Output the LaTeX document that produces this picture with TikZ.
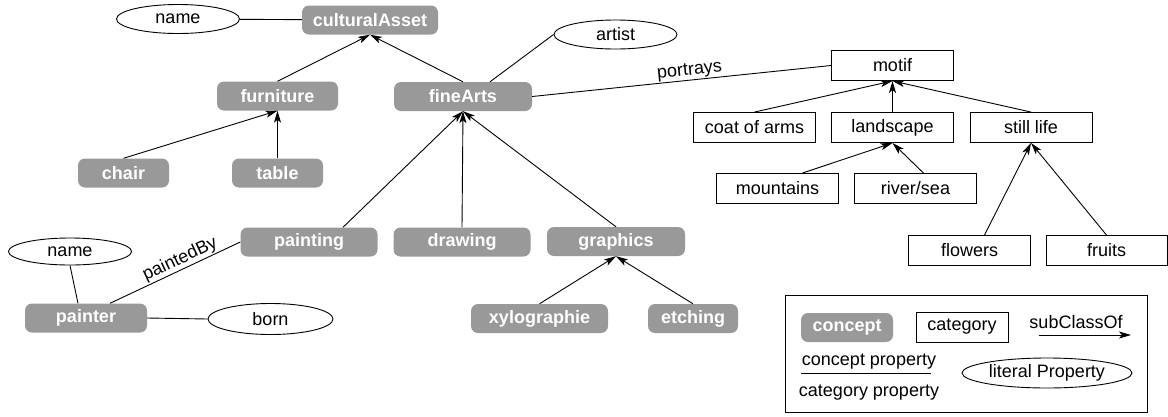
\documentclass[tikz,border=0pt]{standalone}
\usepackage{fontspec}
\setmainfont{Liberation Sans}
\usetikzlibrary{shapes.geometric,arrows.meta}
\definecolor{conc}{HTML}{999999}
\begin{document}
\begin{tikzpicture}[x=1pt,y=-1pt,
 every node/.style={font=\fontsize{18}{21}\selectfont},
 concept/.style={rectangle, rounded corners=7pt, fill=conc, text=white, font=\bfseries\fontsize{18}{21}\selectfont, minimum height=29pt, inner sep=0pt},
 cat/.style={rectangle, draw, line width=0.9pt, minimum height=30pt, minimum width=122pt, inner sep=0pt},
 lit/.style={ellipse, draw, line width=0.9pt, minimum width=123pt, minimum height=29pt, inner sep=0pt},
 sub/.style={draw, line width=0.9pt, -{Stealth[length=12pt,width=7pt,inset=3pt]}},
 prop/.style={draw, line width=0.9pt},
 lbl/.style={font=\fontsize{18}{21}\selectfont, sloped, above, inner sep=1pt}
]
\useasboundingbox (0,0) rectangle (1168,416);

% concepts
\node[concept, minimum width=136pt] (cA) at (370,20) {culturalAsset};
\node[concept, minimum width=121pt] (furn) at (277.5,96) {furniture};
\node[concept, minimum width=138pt] (fA) at (463,96.5) {fineArts};
\node[concept, minimum width=91pt] (chair) at (123.5,173) {chair};
\node[concept, minimum width=91pt] (table) at (277.5,173) {table};
\node[concept, minimum width=137pt] (painting) at (309,242) {painting};
\node[concept, minimum width=137pt] (drawing) at (462,242) {drawing};
\node[concept, minimum width=138pt] (graphics) at (616,241.5) {graphics};
\node[concept, minimum width=122pt] (painter) at (86,318) {painter};
\node[concept, minimum width=137pt] (xylo) at (539.5,318.5) {xylographie};
\node[concept, minimum width=90pt] (etch) at (693,318.5) {etching};

% literals
\node[lit] (name1) at (178,19) {name};
\node[lit] (artist) at (615.5,34.5) {artist};
\node[lit, minimum height=27pt] (name2) at (70,251.5) {name};
\node[lit, minimum height=31pt, minimum width=125pt] (born) at (270.5,319) {born};

% categories
\node[cat] (motif) at (892.5,65.5) {motif};
\node[cat] (coat) at (754.5,127.5) {coat of arms};
\node[cat] (land) at (892.5,127.5) {landscape};
\node[cat] (still) at (1031,127.5) {still life};
\node[cat] (mount) at (777.5,188.5) {mountains};
\node[cat] (river) at (915.5,188.5) {river/sea};
\node[cat] (flowers) at (969.5,250.5) {flowers};
\node[cat, minimum width=121pt] (fruits) at (1106.5,250.5) {fruits};

% edges
\draw[prop] (name1) -- (cA);
\draw[sub] (furn.north) -- (cA.south);
\draw[sub] (fA.north) -- (cA.south);
\draw[sub] (chair.north) -- (furn.south);
\draw[sub] (table.north) -- (furn.south);
\draw[sub] ([xshift=34pt]painting.north) -- (fA.south);
\draw[sub] (drawing.north) -- (fA.south);
\draw[sub] (graphics.north) -- (fA.south);
\draw[sub] (xylo.north) -- (graphics.south);
\draw[sub] (etch.north) -- (graphics.south);
\draw[prop] ([xshift=27pt]fA.north) -- (artist.west);
\draw[prop] (fA.east) -- node[lbl, pos=0.53] {portrays} (motif.west);
\draw[sub] (coat.north) -- (motif.south);
\draw[sub] (land.north) -- (motif.south);
\draw[sub] (still.north) -- (motif.south);
\draw[sub] ([xshift=25pt]mount.north) -- (land.south);
\draw[sub] ([xshift=8pt]river.north) -- (land.south);
\draw[sub] ([xshift=15pt]flowers.north) -- (still.south);
\draw[sub] (fruits.north) -- (still.south);
\draw[prop] ([xshift=-8pt]painter.north) -- (name2.south);
\draw[prop] (painter.east) -- (born.west);
\draw[prop] ([xshift=24pt]painter.north) -- node[lbl, pos=0.57] {paintedBy} (painting.west);

% legend
\node[draw, line width=0.9pt, minimum width=362pt, minimum height=117pt, inner sep=0pt] (legend) at (966,353.5) {};
\node[concept, minimum width=92pt] (lc) at (847,327.5) {concept};
\node[cat, minimum width=92pt] (lcat) at (962,327) {category};
\node[anchor=base, inner sep=0pt] (lsub) at (1076,328) {subClassOf};
\coordinate (sa) at (1039,335);
\coordinate (sb) at (1131,335);
\draw[sub] (sa) -- (sb);
\node[anchor=base, inner sep=0pt] (lcp) at (869,365) {concept property};
\coordinate (pa) at (801,373);
\coordinate (pb) at (931,373);
\draw[prop] (pa) -- (pb);
\node[anchor=base, inner sep=0pt] (lcatp) at (869,396) {category property};
\node[lit, minimum width=170pt, minimum height=30pt] (llit) at (1047,373) {literal Property};
\end{tikzpicture}
\end{document}
